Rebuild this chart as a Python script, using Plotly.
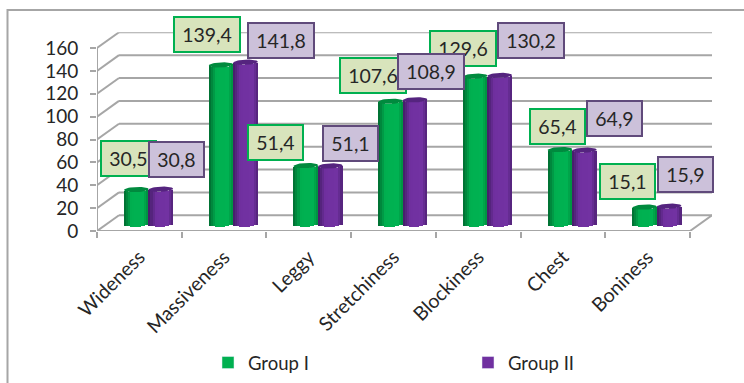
import numpy as np
import plotly.graph_objects as go

# Body-condition indices for two groups of animals
categories = ["Wideness", "Massiveness", "Leggy", "Stretchiness", "Blockiness", "Chest", "Boniness"]
group_1 = [30.5, 139.4, 51.4, 107.6, 129.6, 65.4, 15.1]
group_2 = [30.8, 141.8, 51.1, 108.9, 130.2, 64.9, 15.9]
y_ticks = [0, 20, 40, 60, 80, 100, 120, 140, 160]

# Label box offsets from each bar top, in pixels (right, up)
shifts_1 = [(-7.5, 30.6), (-14, 30), (-30, 23), (-17, 26), (-12, 28), (-2, 23), (-17, 26)]
shifts_2 = [(16, 30), (35, 22), (20, 22), (16, 28), (31, 34.5), (30.5, 32), (16, 32)]

W, H = 744, 383
LEFT, FRONT_RIGHT, BACK_RIGHT = 97, 690, 712
Y0_PX, Y160_PX = 231, 48

px_per_cat = (FRONT_RIGHT - LEFT) / len(categories)
px_per_val = (Y0_PX - Y160_PX) / 160
depth_x = (BACK_RIGHT - FRONT_RIGHT) / px_per_cat
depth_y = 15.7 / px_per_val
x_max = len(categories) + depth_x
y_max = 160 + depth_y

GRID = "#A6A6A6"
TEXT = "#262626"
FONT = "Lato"

# Bars stand part-way into the depth of the floor
bar_depth = 0.42
cyl_w = 24.5 / px_per_cat
cap_h = 2.6 / px_per_val
tilt = 0.9 / px_per_val
n_strips = 12


def shade(stops, t):
    pos = [s[0] for s in stops]
    rgb = [np.interp(t, pos, [s[1][c] for s in stops]) for c in range(3)]
    return "rgb({:.0f},{:.0f},{:.0f})".format(*rgb)


green_stops = [(0, (0, 105, 48)), (0.3, (0, 176, 80)), (0.8, (0, 178, 82)), (1, (0, 140, 62))]
purple_stops = [(0, (66, 28, 100)), (0.3, (112, 48, 160)), (0.8, (114, 50, 162)), (1, (80, 34, 118))]

fig = go.Figure()


def add_cylinders(values, side, stops, cap_color, name, swatch):
    xs, tops, bases, colors = [], [], [], []
    floor = bar_depth * depth_y
    strip_w = cyl_w / n_strips
    for i, v in enumerate(values):
        cx = i + 0.5 + bar_depth * depth_x + side * cyl_w / 2
        for k in range(n_strips):
            t = (k + 0.5) / n_strips
            u = 2 * t - 1
            sag = cap_h * np.sqrt(max(1 - u * u, 0))
            lean = tilt * u / 2
            b = floor - sag + lean
            xs.append(cx - cyl_w / 2 + t * cyl_w)
            bases.append(b)
            tops.append(v)
            colors.append(shade(stops, t))
    fig.add_trace(go.Bar(
        x=xs, y=tops, base=bases, width=strip_w * 1.15,
        marker=dict(color=colors, line=dict(width=0)),
        showlegend=False, hoverinfo="skip",
    ))
    # Elliptical top of each cylinder
    theta = np.linspace(0, 2 * np.pi, 40)
    for i, v in enumerate(values):
        cx = i + 0.5 + bar_depth * depth_x + side * cyl_w / 2
        fig.add_trace(go.Scatter(
            x=cx + cyl_w / 2 * np.cos(theta),
            y=floor + v + cap_h * np.sin(theta) + tilt / 2 * np.cos(theta),
            mode="lines", fill="toself", fillcolor=cap_color,
            line=dict(width=0, color=cap_color),
            showlegend=False, hoverinfo="skip", cliponaxis=False,
        ))
    # Legend entry
    fig.add_trace(go.Bar(x=[None], y=[None], name=name, marker=dict(color=swatch)))


add_cylinders(group_1, -1, green_stops, "#008A3E", "Group I", "#00B050")
add_cylinders(group_2, 1, purple_stops, "#55247F", "Group II", "#7030A0")

shapes = []


def line(x0, y0, x1, y1):
    shapes.append(dict(type="line", xref="x", yref="y", x0=x0, y0=y0, x1=x1, y1=y1,
                       line=dict(color=GRID, width=2), layer="below"))


# Back wall gridlines with the slanted side-wall segments
for t in y_ticks:
    line(0, t, depth_x, t + depth_y)
    line(depth_x, t + depth_y, x_max, t + depth_y)
line(0, 0, 0, 160)
line(0, 0, len(categories), 0)
line(len(categories), 0, x_max, depth_y)

# Chart frame runs off the right and bottom edges of the page
shapes.append(dict(type="rect", xref="paper", yref="paper",
                   x0=7.5 / W, x1=1.02, y0=-0.02, y1=1 - 10 / H,
                   line=dict(color=GRID, width=2), layer="below"))


def value_label(v, i, side, shift, fill, edge):
    text = f"{v:.1f}".replace(".", ",")
    return dict(
        x=i + 0.5 + bar_depth * depth_x + side * cyl_w / 2,
        y=bar_depth * depth_y + v,
        xref="x", yref="y", text=text, showarrow=False,
        xshift=shift[0], yshift=shift[1],
        width=64 if v >= 100 else 53, height=33,
        bgcolor=fill, bordercolor=edge, borderwidth=2, borderpad=0,
        font=dict(family=FONT, size=19.5, color=TEXT),
    )


annotations = [value_label(v, i, -1, shifts_1[i], "#D8E4BC", "#00B050") for i, v in enumerate(group_1)]
annotations += [value_label(v, i, 1, shifts_2[i], "#CCC1DA", "#604A7B") for i, v in enumerate(group_2)]

fig.update_layout(
    width=W, height=H, autosize=False,
    margin=dict(l=0, r=0, t=0, b=0, autoexpand=False),
    paper_bgcolor="white", plot_bgcolor="white",
    barmode="overlay", bargap=0,
    shapes=shapes, annotations=annotations,
    font=dict(family=FONT, color=TEXT),
    xaxis=dict(
        domain=[LEFT / W, BACK_RIGHT / W], range=[0, x_max],
        tickmode="array",
        tickvals=[i + 0.5 for i in range(len(categories))], ticktext=categories,
        tickangle=-45, ticks="", showgrid=False, zeroline=False, showline=False,
        tickfont=dict(family=FONT, size=19.5, color=TEXT), ticklabelstandoff=10,
        minor=dict(tickmode="array", tickvals=list(range(len(categories) + 1)),
                   ticks="outside", ticklen=6, tickwidth=1.5, tickcolor=GRID, showgrid=False),
    ),
    yaxis=dict(
        domain=[1 - Y0_PX / H, 1 - (Y160_PX - 15.7) / H], range=[0, y_max],
        tickmode="array", tickvals=y_ticks,
        ticks="outside", ticklen=6, tickwidth=2, tickcolor=GRID,
        showgrid=False, zeroline=False, showline=False,
        tickfont=dict(family=FONT, size=19, color=TEXT), ticklabelstandoff=8,
    ),
    legend=dict(
        orientation="h", x=208 / W, y=1 - 363 / H, xanchor="left", yanchor="middle",
        entrywidthmode="pixels", entrywidth=215,
        font=dict(family=FONT, size=18.5, color=TEXT),
        bgcolor="rgba(0,0,0,0)", traceorder="normal",
    ),
)

fig.write_html("out.html")
